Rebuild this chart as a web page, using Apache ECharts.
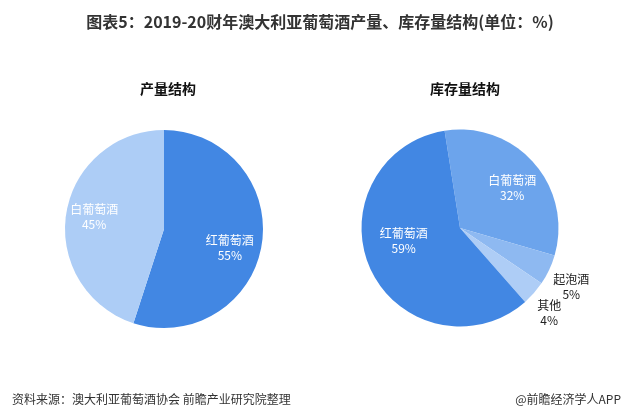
<!DOCTYPE html>
<html><head><meta charset="utf-8">
<script src="https://cdn.jsdelivr.net/npm/echarts@6/dist/echarts.min.js"></script>
<style>html,body{margin:0;padding:0;background:#fff}#c{width:631px;height:420px}</style>
</head><body><div id="c"></div>
<script>
const titleText = '图表5：2019-20财年澳大利亚葡萄酒产量、库存量结构(单位：%)';
const sourceText = '资料来源：澳大利亚葡萄酒协会 前瞻产业研究院整理';
const brandText = '@前瞻经济学人APP';
const prodTitle = '产量结构';
const prodNames = ['红葡萄酒', '白葡萄酒'];
const prodValues = [55, 45];
const stockTitle = '库存量结构';
const stockNames = ['白葡萄酒', '起泡酒', '其他', '红葡萄酒'];
const stockValues = [32, 5, 4, 59];

const FONT = '"Noto Sans CJK SC", sans-serif';
const chart = echarts.init(document.getElementById('c'));

const prodColors = ['#4287E3', '#ADCDF6'];
const prodOffsets = [[14, 11], [-18, -4]];
const stockColors = ['#6CA4EC', '#8EB9F1', '#AECDF6', '#4287E3'];
const stockOffsets = [[13, -6], [64, 37], [50, 50], [-9, -9]];
const stockLabelColors = ['#fff', '#222', '#222', '#fff'];

function lbl(color, offset) {
  return {
    show: true, position: 'inside', color: color, fontSize: 12, lineHeight: 15,
    fontFamily: FONT, offset: offset, formatter: '{b}\n{c}%', align: 'center'
  };
}

chart.setOption({
  animation: false,
  title: [
    {text: titleText, left: 315, top: 9, textAlign: 'center',
     textStyle: {fontSize: 16, fontWeight: 'bold', color: '#333', fontFamily: FONT}},
    {text: prodTitle, left: 163, top: 77, textAlign: 'center',
     textStyle: {fontSize: 14, fontWeight: 'bold', color: '#111', fontFamily: FONT}},
    {text: stockTitle, left: 460, top: 77, textAlign: 'center',
     textStyle: {fontSize: 14, fontWeight: 'bold', color: '#111', fontFamily: FONT}},
    {text: sourceText, left: 7, top: 388,
     textStyle: {fontSize: 12, fontWeight: 'normal', color: '#333', fontFamily: FONT}},
    {text: brandText, right: 5, top: 388,
     textStyle: {fontSize: 12, fontWeight: 'normal', color: '#333', fontFamily: FONT}}
  ],
  series: [
    {
      type: 'pie', center: [164, 229], radius: [0, 99], startAngle: 90, clockwise: true,
      avoidLabelOverlap: false, labelLayout: {hideOverlap: false},
      labelLine: {show: false}, emphasis: {disabled: true},
      data: prodNames.map((n, i) => ({
        name: n, value: prodValues[i],
        itemStyle: {color: prodColors[i]},
        label: lbl('#fff', prodOffsets[i])
      }))
    },
    {
      type: 'pie', center: [460, 228], radius: [0, 98.5], startAngle: 99, clockwise: true,
      avoidLabelOverlap: false, labelLayout: {hideOverlap: false},
      labelLine: {show: false}, emphasis: {disabled: true},
      data: stockNames.map((n, i) => ({
        name: n, value: stockValues[i],
        itemStyle: {color: stockColors[i]},
        label: lbl(stockLabelColors[i], stockOffsets[i])
      }))
    }
  ]
});
</script></body></html>
